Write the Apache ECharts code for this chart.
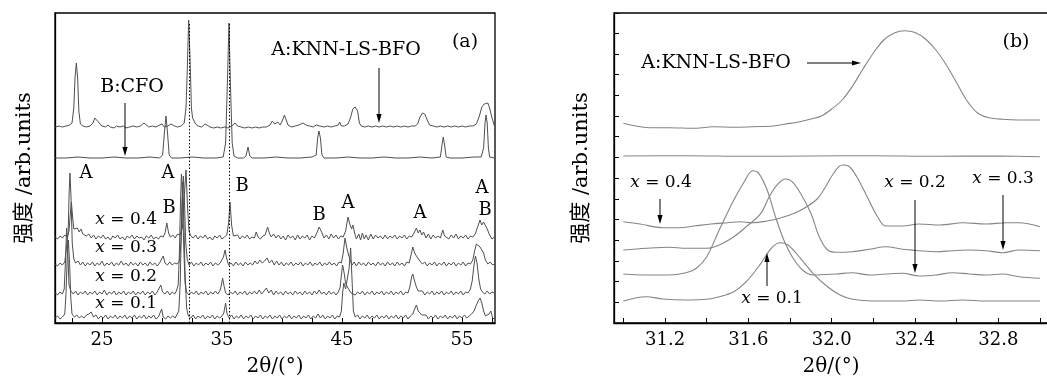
<!DOCTYPE html>
<html>
<head>
<meta charset="utf-8">
<script src="https://cdn.jsdelivr.net/npm/echarts@6.0.0/dist/echarts.min.js"></script>
<style>
  html, body { margin: 0; padding: 0; background: #fff; }
  #chart { width: 1047px; height: 382px; }
</style>
</head>
<body>
<div id="chart"></div>
<script>
// ---- panel (a): 2theta vs offset intensity ----
var ticksA = [22.5, 25, 27.5, 30, 32.5, 35, 37.5, 40, 42.5, 45, 47.5, 50, 52.5, 55, 57.5];
var labelsA = [25, 35, 45, 55];
var guidesA = [32.25, 35.58];

var knnA = [[21.1,196],[21.4,197],[21.7,196],[22.0,197],[22.3,198],[22.5,200],[22.65,215],[22.75,245],[22.86,260],[22.97,245],[23.07,212],[23.2,199],[23.4,197],[23.7,196],[24.0,197],[24.25,200],[24.4,205],[24.55,206],[24.7,201],[24.85,199],[25.0,197],[25.3,196],[25.5,198],[25.7,196],[26.0,195],[26.2,197],[26.5,196],[26.8,197],[27.0,195],[27.3,196],[27.6,197],[27.9,196],[28.2,197],[28.5,200],[28.7,198],[28.9,196],[29.2,197],[29.5,196],[29.8,198],[30.0,199],[30.2,196],[30.5,197],[30.75,199],[30.9,200],[31.05,197],[31.3,196],[31.6,197],[31.85,200],[32.0,215],[32.1,250],[32.22,303],[32.35,260],[32.45,215],[32.55,205],[32.67,205],[32.8,199],[33.0,197],[33.3,196],[33.6,199],[33.75,198],[34.0,196],[34.3,195],[34.6,196],[34.9,195],[35.2,196],[35.5,195],[35.8,197],[36.1,200],[36.3,197],[36.6,196],[36.9,195],[37.2,196],[37.5,195],[37.8,196],[38.1,195],[38.4,196],[38.7,196],[39.0,198],[39.2,202],[39.4,199],[39.65,201],[39.85,198],[40.05,203],[40.2,208],[40.35,203],[40.5,198],[40.8,196],[41.1,197],[41.4,198],[41.75,200],[42.0,198],[42.3,197],[42.6,196],[42.85,198],[43.0,200],[43.15,197],[43.5,196],[43.8,197],[44.1,196],[44.4,197],[44.7,198],[44.8,201],[44.95,197],[45.2,197],[45.5,199],[45.7,205],[45.9,214],[46.1,216],[46.3,212],[46.45,200],[46.6,197],[46.9,196],[47.2,197],[47.5,196],[47.8,197],[48.1,196],[48.4,197],[48.7,196],[49.0,197],[49.3,196],[49.6,197],[49.9,196],[50.2,197],[50.5,196],[50.8,197],[51.1,197],[51.3,199],[51.5,206],[51.7,210],[51.9,209],[52.1,203],[52.3,198],[52.6,197],[52.9,196],[53.2,197],[53.5,196],[53.8,197],[54.1,196],[54.4,197],[54.7,196],[55.0,197],[55.3,196],[55.6,197],[55.9,197],[56.2,199],[56.45,207],[56.65,216],[56.85,219],[57.0,218],[57.15,220],[57.3,215],[57.5,205],[57.7,197]];

var cfoA = [[21.1,165],[22.0,165],[23.0,166],[24.0,165],[25.0,165],[26.0,166],[27.0,165],[28.0,165],[29.0,166],[29.8,165],[30.05,168],[30.2,190],[30.33,207],[30.46,190],[30.6,168],[30.8,165],[31.5,165],[32.5,166],[33.5,165],[34.5,165],[35.1,166],[35.3,180],[35.45,240],[35.58,300],[35.7,240],[35.85,180],[36.0,167],[36.3,165],[36.8,165],[37.0,167],[37.17,176],[37.32,167],[37.5,165],[38.5,165],[39.5,166],[40.5,165],[41.5,165],[42.5,166],[42.85,168],[42.97,185],[43.08,192],[43.2,185],[43.33,168],[43.5,165],[44.5,165],[45.5,166],[46.5,165],[47.5,165],[48.5,166],[49.5,165],[50.5,165],[51.5,166],[52.5,165],[53.2,166],[53.33,178],[53.44,186],[53.55,178],[53.68,166],[54.0,165],[55.0,165],[56.0,166],[56.6,166],[56.8,175],[56.92,200],[57.0,208],[57.1,200],[57.2,175],[57.3,166],[57.75,165]];

var x04A = [[21.1,86],[21.3,84],[21.5,87],[21.7,85],[21.9,88],[22.1,86],[22.25,92],[22.35,108],[22.45,121],[22.55,106],[22.65,94],[22.8,92],[22.95,95],[23.1,91],[23.25,94],[23.4,89],[23.55,91],[23.7,87],[23.9,89],[24.1,85],[24.3,88],[24.5,84],[24.7,87],[24.9,85],[25.1,88],[25.3,84],[25.5,86],[25.7,83],[25.9,87],[26.1,85],[26.3,88],[26.5,84],[26.7,86],[26.9,83],[27.1,87],[27.3,85],[27.5,88],[27.7,84],[27.9,87],[28.1,85],[28.3,86],[28.5,83],[28.7,87],[28.9,85],[29.1,88],[29.3,84],[29.5,86],[29.7,84],[29.9,87],[30.1,86],[30.25,90],[30.4,100],[30.55,90],[30.7,86],[30.9,88],[31.1,85],[31.3,89],[31.5,88],[31.7,95],[31.85,125],[32.0,153],[32.12,118],[32.25,92],[32.4,87],[32.6,85],[32.8,88],[33.0,84],[33.2,87],[33.4,85],[33.6,88],[33.8,84],[34.0,86],[34.2,83],[34.4,87],[34.6,85],[34.8,88],[35.0,84],[35.2,86],[35.4,88],[35.55,100],[35.67,121],[35.8,98],[35.95,87],[36.1,85],[36.3,88],[36.5,84],[36.7,87],[36.9,85],[37.1,88],[37.3,84],[37.5,86],[37.7,85],[37.85,91],[38.0,86],[38.2,84],[38.4,87],[38.6,88],[38.8,96],[38.95,90],[39.1,86],[39.3,89],[39.5,85],[39.7,88],[39.9,84],[40.1,87],[40.3,83],[40.5,88],[40.7,85],[40.9,87],[41.1,83],[41.3,88],[41.5,84],[41.7,87],[41.9,85],[42.1,88],[42.3,83],[42.5,87],[42.7,85],[42.9,90],[43.1,96],[43.3,91],[43.5,85],[43.7,88],[43.9,84],[44.1,89],[44.3,85],[44.5,88],[44.7,84],[44.9,87],[45.1,86],[45.3,92],[45.5,106],[45.65,99],[45.8,94],[45.9,98],[46.05,90],[46.2,84],[46.4,89],[46.55,83],[46.7,90],[46.85,84],[47.0,88],[47.2,83],[47.4,89],[47.6,84],[47.8,88],[48.0,85],[48.2,87],[48.4,84],[48.6,88],[48.8,84],[49.0,87],[49.2,85],[49.4,88],[49.6,84],[49.8,87],[50.0,85],[50.2,88],[50.4,84],[50.6,87],[50.8,86],[51.0,90],[51.2,95],[51.35,90],[51.5,93],[51.65,88],[51.8,91],[52.0,85],[52.2,89],[52.4,84],[52.6,88],[52.8,85],[53.0,87],[53.2,85],[53.4,93],[53.55,87],[53.7,89],[53.9,84],[54.1,88],[54.3,85],[54.5,89],[54.7,84],[54.9,87],[55.1,85],[55.3,88],[55.5,84],[55.7,87],[55.9,86],[56.1,89],[56.3,96],[56.5,103],[56.65,98],[56.8,101],[56.95,99],[57.1,94],[57.3,88],[57.5,84],[57.7,86]];

var x03A = [[21.1,59],[21.3,57],[21.5,60],[21.7,58],[21.9,61],[22.05,62],[22.18,90],[22.26,130],[22.33,150],[22.42,125],[22.52,80],[22.65,64],[22.8,60],[23.0,62],[23.2,58],[23.4,61],[23.6,57],[23.8,60],[24.0,58],[24.2,61],[24.4,57],[24.6,60],[24.8,58],[25.0,62],[25.2,57],[25.4,60],[25.6,58],[25.8,61],[26.0,57],[26.2,60],[26.4,58],[26.6,62],[26.8,58],[27.0,60],[27.2,57],[27.4,61],[27.6,58],[27.8,60],[28.0,57],[28.2,61],[28.4,58],[28.6,60],[28.8,57],[29.0,61],[29.2,58],[29.4,60],[29.6,57],[29.8,60],[29.95,62],[30.1,67],[30.25,60],[30.45,58],[30.65,61],[30.85,58],[31.05,60],[31.25,59],[31.45,62],[31.58,80],[31.68,120],[31.78,147],[31.88,118],[31.98,80],[32.1,64],[32.25,58],[32.45,61],[32.65,57],[32.85,60],[33.05,58],[33.25,61],[33.45,57],[33.65,60],[33.85,58],[34.05,61],[34.25,57],[34.45,60],[34.65,58],[34.85,60],[35.0,62],[35.12,66],[35.25,73],[35.38,65],[35.55,58],[35.75,60],[35.95,57],[36.15,61],[36.35,58],[36.55,60],[36.75,57],[36.95,61],[37.15,58],[37.35,60],[37.55,58],[37.75,62],[37.95,59],[38.15,63],[38.35,60],[38.55,62],[38.75,65],[38.95,60],[39.15,63],[39.35,58],[39.55,62],[39.75,58],[39.95,61],[40.15,57],[40.35,60],[40.55,58],[40.75,61],[40.95,57],[41.15,60],[41.35,58],[41.55,61],[41.75,57],[41.95,60],[42.15,58],[42.35,61],[42.55,57],[42.75,60],[42.95,58],[43.15,61],[43.35,57],[43.55,60],[43.75,58],[43.95,61],[44.15,58],[44.35,60],[44.55,57],[44.75,61],[44.95,60],[45.1,70],[45.25,85],[45.4,75],[45.55,68],[45.7,62],[45.85,58],[46.0,61],[46.2,57],[46.4,61],[46.6,58],[46.8,60],[47.0,57],[47.2,61],[47.4,58],[47.6,60],[47.8,57],[48.0,61],[48.2,58],[48.4,60],[48.6,57],[48.8,61],[49.0,58],[49.2,60],[49.4,57],[49.6,61],[49.8,58],[50.0,60],[50.2,57],[50.4,61],[50.6,60],[50.75,68],[50.9,76],[51.05,70],[51.2,67],[51.35,68],[51.5,62],[51.7,59],[51.9,61],[52.1,57],[52.3,60],[52.5,58],[52.7,61],[52.9,57],[53.1,60],[53.3,58],[53.5,61],[53.7,57],[53.9,60],[54.1,58],[54.3,61],[54.5,57],[54.7,60],[54.9,58],[55.1,61],[55.3,57],[55.5,60],[55.7,59],[55.9,63],[56.05,72],[56.2,79],[56.35,80],[56.5,76],[56.65,77],[56.8,70],[56.95,63],[57.15,59],[57.35,61],[57.55,58],[57.7,59]];

var x02A = [[21.1,30],[21.3,28],[21.5,31],[21.7,29],[21.85,34],[21.95,60],[22.05,95],[22.15,70],[22.25,38],[22.4,32],[22.6,29],[22.8,32],[23.0,28],[23.2,31],[23.4,29],[23.6,32],[23.8,28],[24.0,31],[24.2,29],[24.4,32],[24.6,28],[24.8,31],[25.0,29],[25.2,33],[25.4,28],[25.6,31],[25.8,29],[26.0,32],[26.2,28],[26.4,31],[26.6,29],[26.8,32],[27.0,28],[27.2,31],[27.4,29],[27.6,32],[27.8,28],[28.0,31],[28.2,29],[28.4,32],[28.6,28],[28.8,31],[29.0,29],[29.2,32],[29.4,28],[29.6,31],[29.75,32],[29.9,38],[30.05,31],[30.25,29],[30.45,32],[30.65,28],[30.85,31],[31.05,29],[31.2,32],[31.35,38],[31.45,70],[31.55,125],[31.62,149],[31.7,130],[31.8,80],[31.92,40],[32.05,31],[32.25,28],[32.45,31],[32.65,29],[32.85,32],[33.05,28],[33.25,31],[33.45,29],[33.65,32],[33.85,28],[34.05,31],[34.25,29],[34.45,32],[34.65,29],[34.85,33],[34.95,38],[35.05,45],[35.17,37],[35.3,30],[35.5,28],[35.7,31],[35.9,29],[36.1,32],[36.3,28],[36.5,31],[36.7,29],[36.9,32],[37.1,28],[37.3,31],[37.5,29],[37.7,32],[37.9,29],[38.1,33],[38.3,29],[38.5,32],[38.7,35],[38.9,30],[39.1,33],[39.3,28],[39.5,32],[39.7,29],[39.9,31],[40.1,28],[40.3,32],[40.5,29],[40.7,31],[40.9,28],[41.1,32],[41.3,29],[41.5,31],[41.7,28],[41.9,32],[42.1,29],[42.3,31],[42.5,28],[42.7,32],[42.9,29],[43.1,33],[43.3,29],[43.5,31],[43.7,28],[43.9,32],[44.1,29],[44.3,31],[44.5,28],[44.7,31],[44.85,36],[44.95,48],[45.05,58],[45.15,52],[45.3,40],[45.45,36],[45.6,33],[45.75,30],[45.9,32],[46.1,28],[46.3,31],[46.5,29],[46.7,32],[46.9,28],[47.1,31],[47.3,29],[47.5,32],[47.7,28],[47.9,31],[48.1,29],[48.3,32],[48.5,28],[48.7,31],[48.9,29],[49.1,32],[49.3,28],[49.5,31],[49.7,29],[49.9,32],[50.1,28],[50.3,31],[50.5,30],[50.65,36],[50.8,46],[50.9,49],[51.05,42],[51.2,36],[51.35,32],[51.5,30],[51.7,32],[51.9,28],[52.1,31],[52.3,29],[52.5,32],[52.7,28],[52.9,31],[53.1,29],[53.3,32],[53.5,28],[53.7,31],[53.9,29],[54.1,32],[54.3,28],[54.5,31],[54.7,29],[54.9,32],[55.1,28],[55.3,31],[55.5,30],[55.7,34],[55.85,42],[56.0,58],[56.12,67],[56.25,60],[56.4,44],[56.55,34],[56.7,31],[56.9,29],[57.1,32],[57.3,29],[57.5,31],[57.7,30]];

var x01A = [[21.1,5],[21.3,7],[21.5,4],[21.7,6],[21.9,9],[22.0,30],[22.1,65],[22.2,83],[22.3,60],[22.4,25],[22.5,9],[22.7,6],[22.9,8],[23.1,5],[23.3,7],[23.5,5],[23.7,8],[23.9,9],[24.1,11],[24.3,6],[24.5,8],[24.7,4],[24.9,7],[25.1,5],[25.3,8],[25.5,4],[25.7,7],[25.9,5],[26.1,8],[26.3,4],[26.5,7],[26.7,5],[26.9,8],[27.1,4],[27.3,7],[27.5,5],[27.7,8],[27.9,4],[28.1,7],[28.3,5],[28.5,8],[28.7,4],[28.9,7],[29.1,5],[29.3,8],[29.5,4],[29.7,6],[29.85,8],[29.97,14],[30.1,6],[30.3,4],[30.5,7],[30.7,5],[30.9,7],[31.1,5],[31.25,7],[31.4,12],[31.52,40],[31.62,100],[31.72,141],[31.82,105],[31.92,50],[32.05,15],[32.2,7],[32.4,5],[32.6,8],[32.8,4],[33.0,7],[33.2,5],[33.4,8],[33.6,4],[33.8,7],[34.0,5],[34.2,8],[34.4,4],[34.6,7],[34.8,5],[35.0,7],[35.15,10],[35.3,20],[35.42,9],[35.6,5],[35.8,8],[36.0,4],[36.2,7],[36.4,5],[36.6,8],[36.8,4],[37.0,7],[37.2,5],[37.4,8],[37.6,4],[37.8,7],[38.0,5],[38.2,8],[38.4,4],[38.6,7],[38.8,5],[39.0,8],[39.2,4],[39.4,7],[39.6,5],[39.8,8],[40.0,4],[40.2,7],[40.4,5],[40.6,8],[40.8,4],[41.0,7],[41.2,5],[41.4,8],[41.6,4],[41.8,7],[42.0,5],[42.2,8],[42.4,4],[42.6,7],[42.8,5],[43.0,9],[43.2,5],[43.4,8],[43.6,4],[43.8,7],[44.0,5],[44.2,8],[44.4,4],[44.6,7],[44.8,6],[44.95,12],[45.05,30],[45.15,40],[45.3,34],[45.45,36],[45.6,55],[45.72,75],[45.83,45],[45.95,12],[46.1,6],[46.3,8],[46.5,4],[46.7,7],[46.9,5],[47.1,8],[47.3,4],[47.5,7],[47.7,5],[47.9,8],[48.1,4],[48.3,7],[48.5,5],[48.7,8],[48.9,4],[49.1,7],[49.3,5],[49.5,8],[49.7,4],[49.9,7],[50.1,5],[50.3,8],[50.5,4],[50.7,7],[50.9,9],[51.05,14],[51.2,18],[51.35,12],[51.5,13],[51.65,8],[51.8,6],[52.0,8],[52.2,4],[52.4,7],[52.6,5],[52.8,8],[53.0,4],[53.2,7],[53.4,5],[53.6,8],[53.8,4],[54.0,7],[54.2,5],[54.4,8],[54.6,4],[54.8,7],[55.0,5],[55.2,8],[55.4,5],[55.6,7],[55.8,9],[56.0,12],[56.2,18],[56.35,22],[56.5,25],[56.65,20],[56.8,12],[56.95,7],[57.1,5],[57.25,9],[57.4,12],[57.55,5],[57.7,4]];

// ---- panel (b): zoom on the main peak ----
var ticksB = [31.0, 31.2, 31.4, 31.6, 31.8, 32.0, 32.2, 32.4, 32.6, 32.8, 33.0];
var labelsB = [31.2, 31.6, 32.0, 32.4, 32.8];

var knnB = [[31.0,199.7],[31.06,197],[31.14,195.3],[31.22,195.3],[31.35,194.7],[31.43,196.3],[31.54,195.7],[31.62,196.3],[31.72,197],[31.78,199],[31.84,201],[31.9,204],[31.95,207],[32.0,214],[32.05,223],[32.1,237],[32.15,254],[32.2,270],[32.25,283],[32.3,290],[32.35,292.3],[32.4,290.5],[32.45,284],[32.5,273],[32.55,258],[32.6,240],[32.65,222],[32.7,210],[32.75,205.5],[32.82,203.7],[32.9,203],[33.0,203]];
var cfoB = [[31.0,167],[31.3,167.3],[31.6,166.7],[31.9,167],[32.2,167.3],[32.5,166.7],[32.8,167],[33.0,166.3]];
var x04B = [[31.0,101.3],[31.08,99],[31.19,95.3],[31.26,95.3],[31.34,97],[31.42,99],[31.5,100.3],[31.56,101.3],[31.62,100.3],[31.69,102],[31.75,104.7],[31.82,109.7],[31.88,116.3],[31.93,124],[31.97,136],[32.01,150],[32.05,158],[32.08,157],[32.12,146.3],[32.17,126.3],[32.22,106.3],[32.26,97],[32.34,97],[32.42,99],[32.52,98],[32.63,100.3],[32.74,99],[32.84,100.3],[32.9,100.3],[33.0,96.3]];
var x03B = [[31.0,73],[31.11,74.7],[31.22,75.7],[31.3,74.7],[31.4,74.7],[31.46,78],[31.53,86.3],[31.59,96.3],[31.66,109.7],[31.7,126.3],[31.74,138.7],[31.78,144],[31.81,141.3],[31.85,129.7],[31.9,109.7],[31.94,86.3],[31.98,73],[32.02,70.7],[32.1,71.3],[32.18,73.7],[32.26,76.3],[32.34,73.7],[32.42,72.3],[32.5,71.3],[32.58,72.3],[32.66,73],[32.74,72.3],[32.82,70.3],[32.9,73],[33.0,72.3]];
var x02B = [[31.0,49],[31.11,48],[31.22,48],[31.3,50.3],[31.35,54.7],[31.4,66.3],[31.46,93],[31.53,123],[31.58,141.3],[31.62,152.3],[31.65,149.7],[31.69,133],[31.73,106.3],[31.77,83],[31.81,66.3],[31.86,53],[31.91,48],[32.02,49],[32.1,50.3],[32.18,48],[32.26,49],[32.34,49.7],[32.42,47],[32.5,48],[32.58,50.3],[32.66,49],[32.74,48],[32.82,49],[32.9,46.3],[33.0,44.7]];
var x01B = [[31.0,22],[31.11,26.3],[31.19,24],[31.3,23],[31.4,23.7],[31.46,26.3],[31.53,31.3],[31.59,41.3],[31.66,59.7],[31.71,74.7],[31.75,80.3],[31.79,78],[31.85,64.7],[31.91,49.7],[31.98,36.3],[32.04,28],[32.1,23.7],[32.2,22],[32.34,22],[32.42,23],[32.52,22],[32.63,23],[32.74,22],[32.87,22],[33.0,22]];

var FONT = '"DejaVu Serif", "Noto Sans CJK SC", serif';
var GRAY_A = '#505050';
var GRAY_B = '#858585';

function txt(x, y, text, size, align) {
  return {
    type: 'text', x: x, y: y, z: 10,
    style: {
      text: text, fontSize: size, fontFamily: FONT, fill: '#000',
      align: align || 'center', verticalAlign: 'middle',
      rich: { i: { fontStyle: 'italic', fontSize: size, fontFamily: FONT, fill: '#000' } }
    }
  };
}

function arrow(x1, y1, x2, y2) {
  var dx = x2 - x1, dy = y2 - y1, len = Math.sqrt(dx * dx + dy * dy);
  var ux = dx / len, uy = dy / len, hl = 9, hw = 2.6;
  var bx = x2 - ux * hl, by = y2 - uy * hl;
  return [
    { type: 'line', z: 10, shape: { x1: x1, y1: y1, x2: bx, y2: by }, style: { stroke: '#000', lineWidth: 1 } },
    { type: 'polygon', z: 10, shape: { points: [[x2, y2], [bx - uy * hw, by + ux * hw], [bx + uy * hw, by - ux * hw]] }, style: { fill: '#000' } }
  ];
}

var graphics = [
  txt(465, 42, '(a)', 19),
  txt(346, 50, 'A:KNN-LS-BFO', 19),
  txt(132, 87, 'B:CFO', 19),
  txt(86, 173, 'A', 18), txt(168, 173, 'A', 18), txt(242, 186, 'B', 18),
  txt(169, 208, 'B', 18), txt(319, 215, 'B', 18), txt(348, 203, 'A', 18),
  txt(420, 213, 'A', 18), txt(482, 188, 'A', 18), txt(485, 210, 'B', 18),
  txt(157, 220, '{i|x} = 0.4', 17, 'right'),
  txt(157, 248, '{i|x} = 0.3', 17, 'right'),
  txt(157, 277, '{i|x} = 0.2', 17, 'right'),
  txt(157, 304, '{i|x} = 0.1', 17, 'right'),
  txt(1016, 42, '(b)', 19),
  txt(716, 63, 'A:KNN-LS-BFO', 19),
  txt(661, 183, '{i|x} = 0.4', 17),
  txt(915, 183, '{i|x} = 0.2', 17),
  txt(1003, 179, '{i|x} = 0.3', 17),
  txt(772, 299, '{i|x} = 0.1', 17)
].concat(
  arrow(379, 68, 379, 123),
  arrow(125, 103, 125, 156),
  arrow(807, 63, 861, 63),
  arrow(660, 199, 660, 224),
  arrow(915, 200, 915, 273),
  arrow(1003, 195, 1003, 250),
  arrow(767, 286, 767, 253)
);

function lineSeries(data, xi, color, smooth) {
  return {
    type: 'line', data: data, xAxisIndex: xi, yAxisIndex: xi,
    showSymbol: false, smooth: smooth ? 0.35 : false,
    animation: false, silent: true,
    lineStyle: { color: color, width: smooth ? 1.1 : 1 }
  };
}

var axisText = { color: '#000', fontSize: 18, fontFamily: FONT };

var myChart = echarts.init(document.getElementById('chart'));

var seriesA = [knnA, cfoA, x04A, x03A, x02A, x01A].map(function (d) { return lineSeries(d, 0, GRAY_A, false); });
seriesA[1].markLine = {
  silent: true, symbol: 'none', animation: false, label: { show: false },
  lineStyle: { color: '#000', width: 1, type: [1.5, 2] },
  data: guidesA.map(function (g) { return [{ coord: [g, 0] }, { coord: [g, 300] }]; })
};
var seriesB = [knnB, cfoB, x04B, x03B, x02B, x01B].map(function (d) { return lineSeries(d, 1, GRAY_B, true); });

var option = {
  backgroundColor: '#fff',
  textStyle: { fontFamily: FONT },
  grid: [
    { left: 55, top: 13, width: 440, height: 310, show: true, borderColor: '#000', borderWidth: 1.3, outerBoundsMode: 'none', containLabel: false },
    { left: 614, top: 13, width: 434, height: 310, show: true, borderColor: '#000', borderWidth: 1.3, outerBoundsMode: 'none', containLabel: false }
  ],
  xAxis: [
    {
      type: 'value', gridIndex: 0, min: 21.083, max: 57.75,
      name: '2θ/(°)', nameLocation: 'middle', nameGap: 34, nameTextStyle: { color: '#000', fontSize: 20, fontFamily: FONT },
      axisLine: { show: true, lineStyle: { color: '#000', width: 1.3 } },
      axisTick: { show: true, inside: true, length: 5, customValues: ticksA, lineStyle: { color: '#000' } },
      axisLabel: Object.assign({ customValues: labelsA, margin: 8 }, axisText),
      splitLine: { show: false }
    },
    {
      type: 'value', gridIndex: 1, min: 30.955, max: 33.038,
      name: '2θ/(°)', nameLocation: 'middle', nameGap: 34, nameTextStyle: { color: '#000', fontSize: 20, fontFamily: FONT },
      axisLine: { show: true, lineStyle: { color: '#000', width: 1.3 } },
      axisTick: { show: true, inside: true, length: 5, customValues: ticksB, lineStyle: { color: '#000' } },
      axisLabel: Object.assign({ customValues: labelsB, margin: 8, formatter: function (v) { return v.toFixed(1); } }, axisText),
      splitLine: { show: false }
    }
  ],
  yAxis: [
    {
      type: 'value', gridIndex: 0, min: 0, max: 310,
      name: '强度 /arb.units', nameLocation: 'middle', nameGap: 20, nameRotate: 90,
      nameTextStyle: { color: '#000', fontSize: 21, fontFamily: FONT },
      axisLine: { show: true, lineStyle: { color: '#000', width: 1.3 } },
      axisTick: { show: false }, axisLabel: { show: false }, splitLine: { show: false }
    },
    {
      type: 'value', gridIndex: 1, min: 0, max: 310, interval: 20.7,
      name: '强度 /arb.units', nameLocation: 'middle', nameGap: 22, nameRotate: 90,
      nameTextStyle: { color: '#000', fontSize: 21, fontFamily: FONT },
      axisLine: { show: true, lineStyle: { color: '#000', width: 1.3 } },
      axisTick: { show: true, inside: true, length: 5, lineStyle: { color: '#000' } },
      axisLabel: { show: false }, splitLine: { show: false }
    }
  ],
  series: seriesA.concat(seriesB),
  graphic: graphics
};

option && myChart.setOption(option);
</script>
</body>
</html>
